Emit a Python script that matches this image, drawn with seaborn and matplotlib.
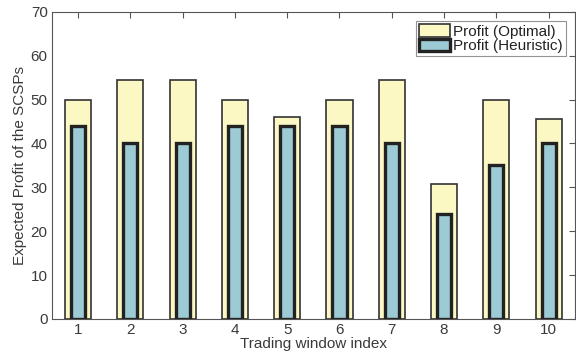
import matplotlib
matplotlib.use("Agg")
import matplotlib.pyplot as plt
import seaborn as sns
import pandas as pd

windows = ["1", "2", "3", "4", "5", "6", "7", "8", "9", "10"]
profit_optimal = [50, 54.5, 54.5, 50, 46, 50, 54.5, 30.8, 50, 45.5]
profit_heuristic = [44, 40, 40, 44, 44, 44, 40, 24, 35, 40]

sns.set_style("white")
plt.rcParams["font.family"] = ["Liberation Sans", "DejaVu Sans"]

df = pd.DataFrame({"window": windows, "opt": profit_optimal, "heu": profit_heuristic})

fig = plt.figure(figsize=(5.76, 3.6), dpi=100)
ax = fig.add_axes([0.090, 0.114, 0.908, 0.853])

sns.barplot(data=df, x="window", y="opt", ax=ax, color="#FBF8C4", width=0.5,
            edgecolor="#333333", linewidth=1.2, saturation=1, label="Profit (Optimal)")
sns.barplot(data=df, x="window", y="heu", ax=ax, color="#9CCBD6", width=0.27,
            edgecolor="#222222", linewidth=2.4, saturation=1, label="Profit (Heuristic)")

ax.set_xlim(-0.5, 9.5)
ax.set_ylim(0, 70)
ax.set_yticks(range(0, 71, 10))
ax.set_xlabel("Trading window index", fontsize=11, color="#3a3a3a", labelpad=0)
ax.set_ylabel("Expected Profit of the SCSPs", fontsize=11, color="#3a3a3a", labelpad=3)
ax.tick_params(direction="in", length=4, top=True, right=True, labelsize=11,
               colors="#555555", labelcolor="#3a3a3a", width=0.8, pad=3)
for s in ax.spines.values():
    s.set_visible(True)
    s.set_color("#555555")
    s.set_linewidth(0.8)

leg = ax.legend(loc="upper right", fontsize=11, frameon=True, fancybox=False,
                edgecolor="#777777", handlelength=2.0, handleheight=0.9,
                handletextpad=0.2, labelspacing=0.0, borderpad=0.2,
                borderaxespad=0.6)
leg.get_frame().set_linewidth(0.8)
for t in leg.get_texts():
    t.set_color("#222222")

fig.savefig("out.png", dpi=100)
